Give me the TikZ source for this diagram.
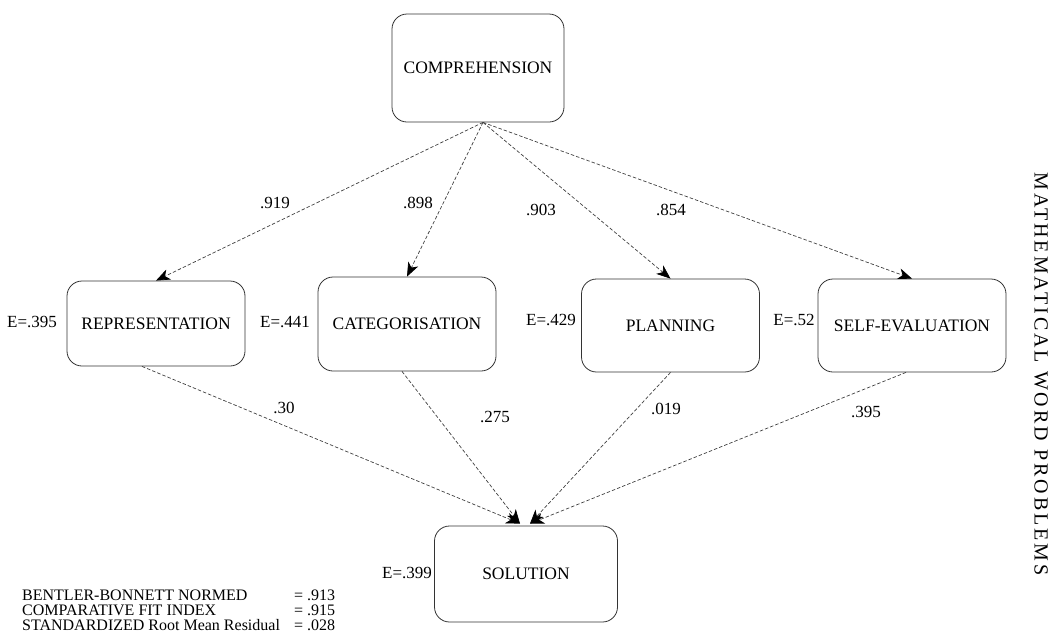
\documentclass[tikz,border=0pt]{standalone}
\usepackage{fontspec}
\setmainfont{Liberation Serif}
\usetikzlibrary{arrows.meta,calc}
\begin{document}
\begin{tikzpicture}[x=1pt,y=-1pt,
  var/.style={draw=black!80, line width=0.8pt, rounded corners=15pt, inner sep=0pt,
    font=\fontsize{17.5}{20}\selectfont},
  path/.style={draw=black!75, line width=0.7pt, dash pattern=on 3.5pt off 2pt,
    -{Stealth[length=14pt,width=11pt,inset=4pt,black]}},
  coef/.style={font=\fontsize{17}{19}\selectfont, inner sep=1pt},
  err/.style={font=\fontsize{17}{19}\selectfont, inner sep=1pt},
  fit/.style={font=\fontsize{16}{18}\selectfont, inner sep=0pt, anchor=west}]
\useasboundingbox (0,0) rectangle (1062,633);

% latent variable boxes
\node[var, minimum width=172pt, minimum height=108pt] (comp) at (478,68) {COMPREHENSION};
\node[var, minimum width=178pt, minimum height=85pt]  (rep)  at (156,323.5) {REPRESENTATION};
\node[var, minimum width=178pt, minimum height=94pt]  (cat)  at (407,324) {CATEGORISATION};
\node[var, minimum width=178pt, minimum height=93pt]  (plan) at (670.5,325.5) {PLANNING};
\node[var, minimum width=188pt, minimum height=93pt]  (self) at (912,325.5) {SELF-EVALUATION};
\node[var, minimum width=183pt, minimum height=96pt]  (sol)  at (526,574) {SOLUTION};

% common origin and arrival points of the paths
\coordinate (src) at ($(comp.south)+(5,0)$);
\coordinate (tipL) at ($(sol.north)+(-6,-2)$);
\coordinate (tipR) at ($(sol.north)+(4,-2)$);

% paths from comprehension
\draw[path] (src) -- (rep.north);
\draw[path] (src) -- (cat.north);
\draw[path] (src) -- (plan.north);
\draw[path] (src) -- (self.north);

% paths to solution
\draw[path] ($(rep.south)+(-14,0)$) -- (tipL);
\draw[path] ($(cat.south)+(-5,0)$) -- (tipL);
\draw[path] ($(plan.south)+(0,0)$) -- (tipR);
\draw[path] ($(self.south)+(-6,0)$) -- (tipR);

% path coefficients
\node[coef] (c1) at (275,203) {.919};
\node[coef] (c2) at (418,203) {.898};
\node[coef] (c3) at (541,210) {.903};
\node[coef] (c4) at (671,210) {.854};
\node[coef] (c5) at (284,408) {.30};
\node[coef] (c6) at (495,417) {.275};
\node[coef] (c7) at (666,409) {.019};
\node[coef] (c8) at (866,412) {.395};

% error terms
\node[err] (e1) at (32,322) {E=.395};
\node[err] (e2) at (285,322) {E=.441};
\node[err] (e3) at (551,320) {E=.429};
\node[err] (e4) at (794,320) {E=.52};
\node[err] (e5) at (407,573) {E=.399};

% fit indices
\node[fit] (f1) at (22,595) {BENTLER-BONNETT NORMED};
\node[fit] (f2) at (22,610) {COMPARATIVE FIT INDEX};
\node[fit] (f3) at (22,625) {STANDARDIZED Root Mean Residual};
\node[fit] (v1) at (294,595) {= .913};
\node[fit] (v2) at (294,610) {= .915};
\node[fit] (v3) at (294,625) {= .028};

% running head
\node[rotate=-90, inner sep=0pt, font=\fontsize{20}{22}\selectfont\addfontfeature{LetterSpace=15}]
  (head) at (1041,374) {MATHEMATICAL WORD PROBLEMS};
\end{tikzpicture}
\end{document}
